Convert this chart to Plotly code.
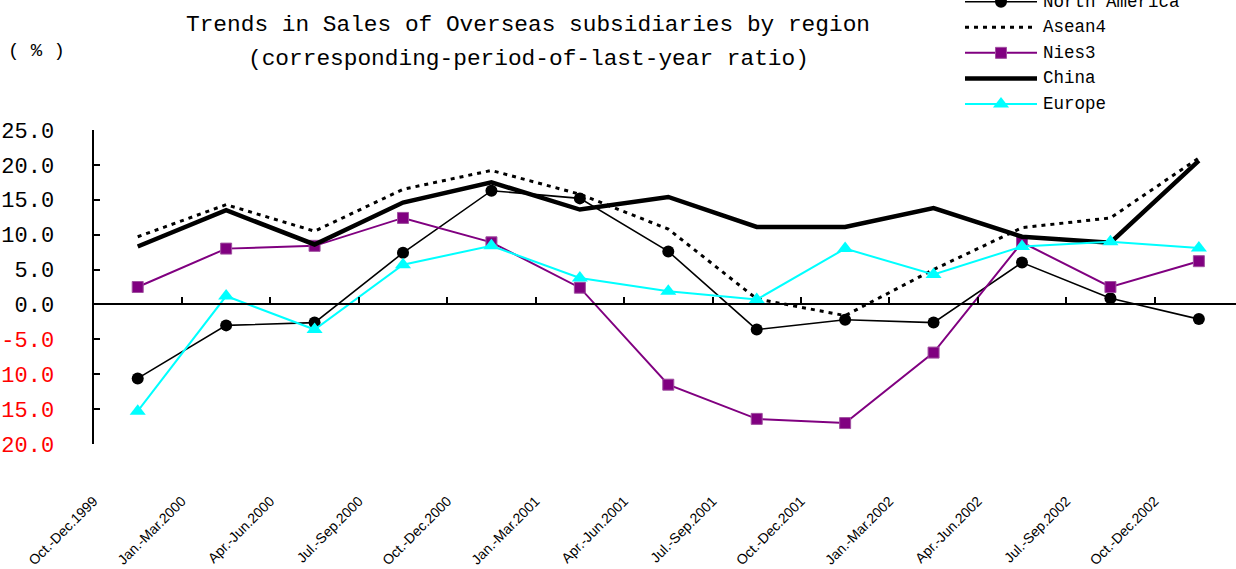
import plotly.graph_objects as go

# Quarterly periods (x categories)
periods = ["Oct.-Dec.1999", "Jan.-Mar.2000", "Apr.-Jun.2000", "Jul.-Sep.2000",
           "Oct.-Dec.2000", "Jan.-Mar.2001", "Apr.-Jun.2001", "Jul.-Sep.2001",
           "Oct.-Dec.2001", "Jan.-Mar.2002", "Apr.-Jun.2002", "Jul.-Sep.2002",
           "Oct.-Dec.2002"]

# Year-on-year change in sales (%), by region
north_america = [-10.6, -3.0, -2.6, 7.4, 16.3, 15.2, 7.6, -3.6, -2.2, -2.6, 6.0, 0.9, -2.1]
asean4 = [9.7, 14.3, 10.5, 16.5, 19.2, 15.8, 10.8, 0.8, -1.6, 5.0, 11.0, 12.4, 21.0]
nies3 = [2.5, 8.0, 8.4, 12.4, 8.9, 2.4, -11.5, -16.4, -17.0, -6.9, 8.9, 2.5, 6.2]
china = [8.3, 13.5, 8.6, 14.6, 17.5, 13.6, 15.4, 11.1, 11.1, 13.8, 9.7, 8.85, 20.6]
europe = [-15.3, 1.2, -3.6, 5.7, 8.4, 3.8, 1.9, 0.7, 8.0, 4.3, 8.3, 9.0, 8.1]

# Y axis ticks
y_ticks = [25, 20, 15, 10, 5, 0, -5, -10, -15, -20]

series_names = ["North America", "Asean4", "Nies3", "China", "Europe"]
series_values = [north_america, asean4, nies3, china, europe]

MONO = "Liberation Mono, DejaVu Sans Mono, monospace"
SANS = "Liberation Sans Narrow, Liberation Sans, Arial, sans-serif"

styles = {
    "North America": dict(line=dict(color="black", width=1.6),
                          marker=dict(symbol="circle", size=12, color="black"),
                          mode="lines+markers"),
    "Asean4": dict(line=dict(color="black", width=3, dash="4px,5px"),
                   mode="lines"),
    "Nies3": dict(line=dict(color="#800080", width=2),
                  marker=dict(symbol="square", size=11, color="#800080",
                              line=dict(color="#A050A0", width=1)),
                  mode="lines+markers"),
    "China": dict(line=dict(color="black", width=4.5), mode="lines"),
    "Europe": dict(line=dict(color="#00FFFF", width=2),
                   marker=dict(symbol="triangle-up", size=14, color="#00FFFF"),
                   mode="lines+markers"),
}

idx = list(range(len(periods)))

fig = go.Figure()

for name, vals in zip(series_names, series_values):
    st = styles[name]
    fig.add_trace(go.Scatter(x=idx, y=vals, name=name, mode=st["mode"],
                             line=st["line"], marker=st.get("marker"),
                             showlegend=False, hoverinfo="x+y+name",
                             xaxis="x", yaxis="y"))

# empty trace so the zero-line axis (x2) is rendered
fig.add_trace(go.Scatter(x=[], y=[], xaxis="x2", yaxis="y", showlegend=False,
                         hoverinfo="skip"))

# legend samples, one row per series on their own small axes
for row, name in enumerate(series_names):
    st = styles[name]
    fig.add_trace(go.Scatter(x=[0, 1], y=[row, row], mode="lines",
                             line=st["line"], xaxis="x3", yaxis="y3",
                             showlegend=False, hoverinfo="skip"))
    if "marker" in st:
        fig.add_trace(go.Scatter(x=[0.5], y=[row], mode="markers",
                                 marker=st["marker"], xaxis="x3", yaxis="y3",
                                 cliponaxis=False, showlegend=False,
                                 hoverinfo="skip"))

W, H = 1236, 569
x_dom = [93.5 / W, 1.0]
x_range = [-0.5, 12.42]

y_ticktext = []
for v in y_ticks:
    s = f"{v:.1f}"
    if v < 0:
        s = f'<span style="color:#FF0000">{s}</span>'
    y_ticktext.append(s)

annotations = [
    dict(text="Trends in Sales of Overseas subsidiaries by region",
         x=528 / W, y=1 - 25.5 / H, xref="paper", yref="paper",
         xanchor="center", yanchor="middle", showarrow=False,
         font=dict(family=MONO, size=22.8, color="black")),
    dict(text="(corresponding-period-of-last-year ratio)",
         x=528 / W, y=1 - 59 / H, xref="paper", yref="paper",
         xanchor="center", yanchor="middle", showarrow=False,
         font=dict(family=MONO, size=22.8, color="black")),
    dict(text="( % )", x=6 / W, y=1 - 51 / H, xref="paper", yref="paper",
         xanchor="left", yanchor="middle", showarrow=False,
         font=dict(family=MONO, size=19, color="black")),
]
for row, name in enumerate(series_names):
    annotations.append(dict(text=name, x=1041 / W, y=row, xref="paper", yref="y3",
                            xanchor="left", yanchor="middle", showarrow=False,
                            font=dict(family=MONO, size=17.5, color="black")))

fig.update_layout(
    width=W, height=H,
    margin=dict(l=0, r=0, t=0, b=0),
    paper_bgcolor="white", plot_bgcolor="white",
    showlegend=False,
    # period labels hang from the category boundaries
    xaxis=dict(domain=x_dom, range=x_range, anchor="free", position=0.14,
               tickmode="array", tickvals=[i - 0.5 for i in idx],
               ticktext=periods,
               tickangle=-45, ticks="", showline=False, showgrid=False,
               zeroline=False, automargin=False,
               tickfont=dict(family=SANS, size=14, color="black")),
    xaxis2=dict(domain=x_dom, range=x_range, overlaying="x", anchor="free",
                position=1 - 304.4 / H, showline=True, linecolor="black",
                linewidth=2, ticks="inside", ticklen=6, tickwidth=1.5,
                tickcolor="black", tickmode="array",
                tickvals=[i + 0.5 for i in idx], showticklabels=False,
                showgrid=False, zeroline=False, automargin=False),
    yaxis=dict(domain=[1 - 444 / H, 1 - 130 / H], range=[-20, 25], anchor="x",
               showline=True, linecolor="black", linewidth=2,
               ticks="inside", ticklen=6, tickwidth=1.5, tickcolor="black",
               tickmode="array", tickvals=y_ticks, ticktext=y_ticktext,
               ticklabelstandoff=33, showgrid=False, zeroline=False,
               automargin=False,
               tickfont=dict(family=MONO, size=22, color="black")),
    xaxis3=dict(domain=[965 / W, 1037 / W], range=[0, 1], anchor="y3",
                visible=False),
    yaxis3=dict(domain=[1 - 116.8 / H, 1.0], range=[4.5, -0.066], anchor="x3",
                visible=False),
    annotations=annotations,
)

fig.write_html("out.html")
